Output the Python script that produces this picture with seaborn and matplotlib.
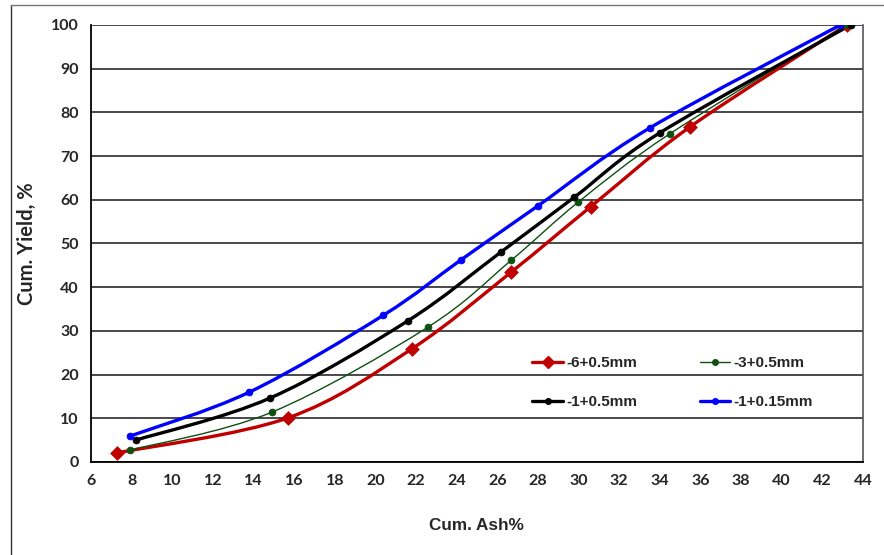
import numpy as np
import matplotlib
matplotlib.use("Agg")
import matplotlib.pyplot as plt
from matplotlib.path import Path
from matplotlib.patches import PathPatch
from matplotlib.lines import Line2D
import seaborn as sns

# ==========================
# Dados (Cum. Ash % x Cum. Yield %)
# ==========================
ash_6_05 = [7.3, 15.7, 21.8, 26.7, 30.6, 35.5, 43.2]
yield_6_05 = [2.1, 10.1, 25.9, 43.5, 58.4, 76.7, 100.0]

ash_3_05 = [7.9, 14.9, 22.6, 26.7, 30.0, 34.5, 43.2]
yield_3_05 = [2.7, 11.4, 30.9, 46.2, 59.5, 75.1, 100.0]

ash_1_05 = [8.2, 14.8, 21.6, 26.2, 29.8, 34.0, 43.4]
yield_1_05 = [5.0, 14.6, 32.3, 48.1, 60.6, 75.3, 100.0]

ash_1_015 = [7.9, 13.8, 20.4, 24.2, 28.0, 33.5, 42.9]
yield_1_015 = [5.9, 16.0, 33.6, 46.2, 58.6, 76.4, 100.0]

series_labels = ["-6+0.5mm", "-3+0.5mm", "-1+0.5mm", "-1+0.15mm"]

x_ticks = list(range(6, 45, 2))
y_ticks = list(range(0, 101, 10))


def smooth_path(xs, ys):
    # curva suave estilo Excel (Bezier passando pelos pontos)
    p = np.column_stack([xs, ys]).astype(float)
    n = len(p)
    verts = [p[0]]
    codes = [Path.MOVETO]
    for i in range(n - 1):
        p0 = p[i - 1] if i > 0 else p[i]
        p1, p2 = p[i], p[i + 1]
        p3 = p[i + 2] if i + 2 < n else p[i + 1]
        verts += [p1 + (p2 - p0) / 6, p2 - (p3 - p1) / 6, p2]
        codes += [Path.CURVE4] * 3
    return Path(verts, codes)


sns.set_style("white")

fig = plt.figure(figsize=(8.84, 5.55), dpi=100)
ax = fig.add_axes([0.103, 0.1676, 0.873, 0.7874])

series = [
    (ash_6_05, yield_6_05, "#C00000", 2.4, "D", 7),
    (ash_3_05, yield_3_05, "#0F4F12", 1.0, "o", 5),
    (ash_1_05, yield_1_05, "black", 2.4, "o", 5),
    (ash_1_015, yield_1_015, "#0000FF", 2.4, "o", 5),
]

handles = []
for (xs, ys, cor, lw, mk, ms), lab in zip(series, series_labels):
    ax.add_patch(PathPatch(smooth_path(xs, ys), facecolor="none",
                           edgecolor=cor, lw=lw, zorder=3))
    sns.scatterplot(x=xs, y=ys, ax=ax, color=cor, marker=mk, s=ms ** 2,
                    edgecolor=cor, linewidth=0.5, zorder=4)
    handles.append(Line2D([], [], color=cor, lw=lw, marker=mk, markersize=ms - 1))

ax.set_xlim(6, 44)
ax.set_ylim(0, 100)
ax.set_xticks(x_ticks)
ax.set_yticks(y_ticks)
ax.grid(axis="y", color="#2a2a2a", lw=1.2)
ax.grid(axis="x", visible=False)
ax.set_axisbelow(True)

for s in ["left", "bottom"]:
    ax.spines[s].set_color("black")
    ax.spines[s].set_linewidth(1.3)
ax.spines["top"].set_visible(False)
ax.spines["right"].set_color("#555555")
ax.spines["right"].set_linewidth(1.2)

ax.tick_params(axis="both", direction="out", length=5, width=1.2,
               color="black", labelsize=11.5, pad=4)
for t in ax.get_xticklabels() + ax.get_yticklabels():
    t.set_fontweight("bold")
    t.set_family("Lato")

ax.set_xlabel("Cum. Ash%", fontsize=12.3, fontweight="bold",
              family="Liberation Sans", labelpad=21)
ax.set_ylabel("Cum. Yield, %", fontsize=14.5, fontweight="bold",
              family="Lato", labelpad=10)

order = [0, 2, 1, 3]
ax.legend([handles[i] for i in order], [series_labels[i] for i in order],
          ncol=2, frameon=False, loc="upper left",
          bbox_to_anchor=(0.554, 0.273), handlelength=2.0, handletextpad=0.2,
          columnspacing=4.1, labelspacing=1.6,
          prop={"family": "Liberation Sans", "weight": "bold", "size": 11})

# moldura externa da figura
fig.add_artist(Line2D([0.0124, 0.0124], [0.0, 0.991], color="#333333",
                      lw=1.0, transform=fig.transFigure))
fig.add_artist(Line2D([0.0124, 1.0], [0.991, 0.991], color="#777777",
                      lw=1.0, transform=fig.transFigure))

plt.savefig("out.png", dpi=100)
plt.close()
